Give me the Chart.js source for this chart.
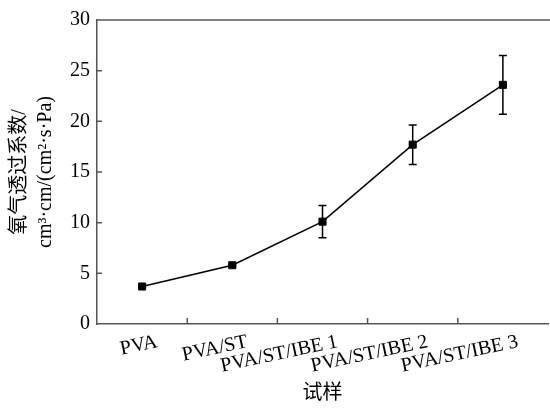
<!DOCTYPE html>
<html>
<head>
<meta charset="utf-8">
<script src="https://cdn.jsdelivr.net/npm/chart.js@4"></script>
<style>
  html, body { margin: 0; padding: 0; background: #fff; overflow: hidden; }
  #wrap { width: 554px; height: 408px; }
</style>
</head>
<body>
<div id="wrap"><canvas id="oxChart"></canvas></div>
<script>
// sample names and measured oxygen permeability
const categories = ["PVA", "PVA/ST", "PVA/ST/IBE 1", "PVA/ST/IBE 2", "PVA/ST/IBE 3"];
const oxygen = [3.7, 5.8, 10.1, 17.7, 23.6];
const errors = [0.1, 0.1, 1.6, 1.95, 2.9];
const yMin = 0, yMax = 30, yStep = 5;

const serif = "'Liberation Serif', 'Times New Roman', 'Noto Sans CJK SC', serif";
const axisColor = "#555";

// error bars, inward ticks and the top frame line
const extras = {
  id: "extras",
  beforeDatasetsDraw(chart) {
    const ctx = chart.ctx;
    const x = chart.scales.x, y = chart.scales.y;
    ctx.save();
    ctx.strokeStyle = "#000";
    ctx.lineWidth = 1.5;
    oxygen.forEach(function (v, i) {
      const e = errors[i];
      const px = x.getPixelForValue(i);
      const top = y.getPixelForValue(v + e);
      const bot = y.getPixelForValue(v - e);
      ctx.beginPath();
      ctx.moveTo(px, top); ctx.lineTo(px, bot);
      ctx.moveTo(px - 4, top); ctx.lineTo(px + 4, top);
      ctx.moveTo(px - 4, bot); ctx.lineTo(px + 4, bot);
      ctx.stroke();
    });
    ctx.restore();
  },
  afterDraw(chart) {
    const ctx = chart.ctx;
    const a = chart.chartArea;
    const x = chart.scales.x, y = chart.scales.y;
    ctx.save();
    ctx.strokeStyle = axisColor;
    ctx.lineWidth = 1.5;
    ctx.beginPath();
    ctx.moveTo(a.left, a.top); ctx.lineTo(a.right + 5, a.top);
    for (let i = 1; i < categories.length; i++) {
      const bx = (x.getPixelForValue(i - 1) + x.getPixelForValue(i)) / 2;
      ctx.moveTo(bx, a.bottom); ctx.lineTo(bx, a.bottom - 6);
    }
    for (let v = yMin + yStep; v < yMax; v += yStep) {
      const py = y.getPixelForValue(v);
      ctx.moveTo(a.left, py); ctx.lineTo(a.left + 5, py);
    }
    ctx.stroke();
    ctx.restore();
  }
};

const ctx = document.getElementById("oxChart").getContext("2d");
new Chart(ctx, {
  type: "line",
  data: {
    labels: categories,
    datasets: [{
      data: oxygen,
      borderColor: "#000",
      borderWidth: 1.5,
      pointStyle: "rect",
      pointRadius: 5,
      pointBorderWidth: 1,
      pointBackgroundColor: "#000",
      pointBorderColor: "#000",
      tension: 0
    }]
  },
  options: {
    responsive: true,
    maintainAspectRatio: false,
    animation: false,
    layout: { padding: { top: 20, right: 2, left: 0, bottom: 0 } },
    plugins: { legend: { display: false }, tooltip: { enabled: false } },
    scales: {
      x: {
        offset: true,
        grid: { display: false, drawTicks: false },
        border: { display: true, color: axisColor, width: 1.5 },
        ticks: {
          color: "#000",
          font: { family: serif, size: 20 },
          minRotation: 12,
          maxRotation: 12,
          autoSkip: false,
          padding: 6,
          labelOffset: 15
        },
        title: {
          display: true,
          text: "试样",
          color: "#000",
          font: { family: serif, size: 20 },
          padding: { top: 0, bottom: 2 }
        },
        afterFit(scale) { scale.height = 84; }
      },
      y: {
        min: yMin,
        max: yMax,
        grid: { display: false, drawTicks: false },
        border: { display: true, color: axisColor, width: 1.5 },
        ticks: {
          stepSize: yStep,
          color: "#000",
          font: { family: serif, size: 20 },
          padding: 7
        },
        title: {
          display: true,
          text: ["氧气透过系数/", "cm³·cm/(cm²·s·Pa)"],
          color: "#000",
          font: { family: serif, size: 20, lineHeight: 1.3 },
          padding: { top: 7, bottom: 0 }
        },
        afterFit(scale) { scale.width = 97; }
      }
    }
  },
  plugins: [extras]
});
</script>
</body>
</html>
